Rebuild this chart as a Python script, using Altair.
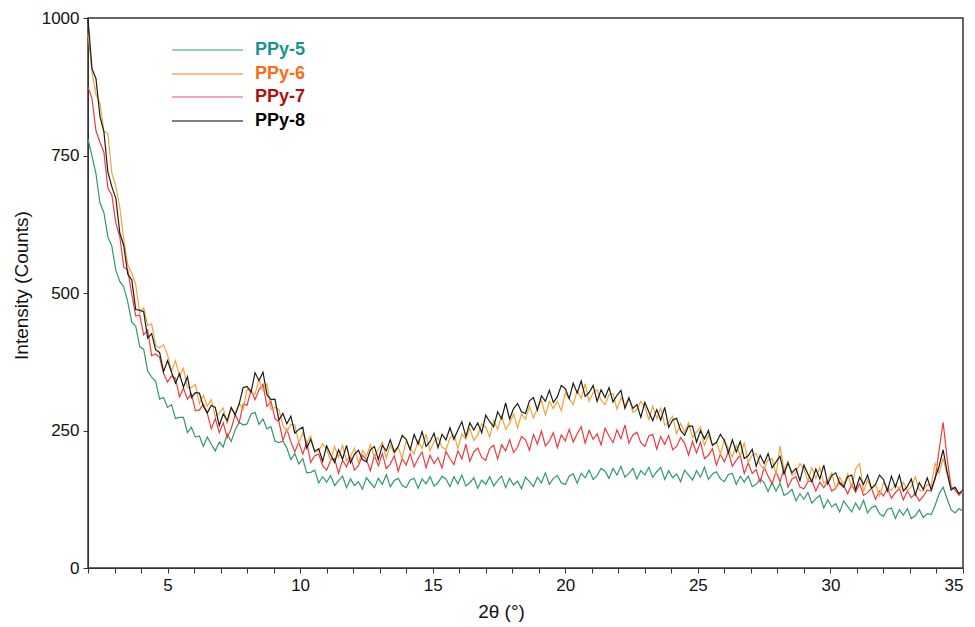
import altair as alt
import pandas as pd

x_start = 2.0
x_step = 0.15

ppy5 = [
    780, 749, 717, 664, 646, 602, 585, 541, 521, 511,
    484, 447, 440, 402, 398, 358, 347, 340, 307, 310,
    292, 297, 272, 274, 274, 246, 256, 238, 240, 221,
    238, 225, 213, 229, 220, 244, 230, 251, 265, 260,
    262, 280, 283, 261, 271, 253, 257, 231, 228, 231,
    218, 197, 208, 189, 199, 173, 174, 178, 155, 166,
    156, 168, 150, 159, 167, 146, 162, 150, 157, 143,
    164, 155, 146, 163, 152, 170, 148, 159, 163, 150,
    146, 160, 163, 145, 162, 153, 166, 149, 155, 167,
    162, 148, 166, 153, 169, 149, 155, 164, 145, 160,
    152, 166, 149, 159, 167, 146, 163, 151, 158, 144,
    165, 157, 148, 165, 155, 173, 152, 163, 168, 155,
    152, 167, 171, 154, 172, 164, 178, 161, 168, 181,
    176, 163, 181, 169, 185, 165, 172, 181, 162, 177,
    169, 183, 165, 175, 183, 161, 177, 164, 171, 157,
    178, 169, 160, 177, 165, 183, 161, 171, 175, 162,
    157, 170, 172, 152, 167, 156, 167, 148, 152, 162,
    155, 139, 155, 140, 154, 132, 136, 143, 122, 135,
    125, 137, 118, 126, 132, 109, 124, 111, 117, 102,
    122, 112, 102, 118, 106, 123, 100, 110, 113, 99,
    94, 107, 109, 90, 106, 96, 108, 90, 95, 106,
    92, 99, 97, 114, 135, 147, 126, 106, 100, 108, 103,
]

ppy6 = [
    972, 903, 861, 845, 794, 790, 718, 694, 655, 597,
    551, 536, 515, 464, 473, 441, 444, 405, 400, 406,
    388, 358, 377, 349, 363, 328, 328, 334, 299, 314,
    294, 306, 275, 282, 291, 262, 290, 282, 300, 288,
    326, 320, 316, 342, 322, 335, 288, 292, 288, 260,
    248, 261, 260, 227, 246, 228, 240, 210, 213, 226,
    216, 195, 221, 201, 223, 195, 203, 218, 191, 214,
    203, 224, 201, 216, 229, 200, 223, 208, 219, 200,
    231, 218, 207, 232, 217, 244, 213, 230, 237, 220,
    215, 236, 242, 218, 244, 234, 254, 232, 242, 262,
    256, 238, 268, 252, 277, 252, 263, 280, 255, 280,
    271, 294, 273, 290, 305, 278, 303, 290, 303, 286,
    318, 307, 297, 323, 308, 335, 303, 319, 324, 305,
    297, 315, 317, 289, 310, 295, 310, 283, 288, 303,
    293, 270, 294, 272, 291, 260, 265, 276, 244, 263,
    247, 264, 237, 247, 256, 223, 242, 223, 230, 207,
    234, 217, 202, 223, 204, 227, 192, 205, 208, 188,
    179, 197, 199, 170, 222, 178, 194, 168, 174, 190,
    180, 158, 183, 163, 183, 154, 160, 173, 144, 165,
    152, 171, 146, 180, 190, 139, 160, 143, 152, 131,
    155, 146, 141, 152, 144, 156, 140, 148, 166, 142,
    140, 152, 150, 190, 172, 200, 170, 144, 146, 134, 140,
]

ppy7 = [
    874, 854, 795, 774, 756, 691, 678, 627, 602, 547,
    542, 498, 458, 460, 424, 433, 386, 389, 383, 354,
    338, 349, 345, 311, 327, 307, 317, 286, 287, 298,
    281, 253, 272, 246, 264, 237, 253, 279, 264, 298,
    296, 324, 306, 324, 334, 294, 303, 272, 266, 232,
    252, 230, 211, 229, 207, 228, 192, 204, 207, 186,
    178, 196, 199, 172, 196, 184, 202, 178, 186, 205,
    197, 177, 205, 186, 208, 181, 189, 204, 176, 199,
    187, 208, 184, 199, 211, 182, 205, 190, 201, 182,
    212, 199, 188, 213, 198, 225, 194, 211, 218, 201,
    196, 217, 223, 198, 224, 213, 233, 210, 220, 239,
    233, 214, 243, 225, 249, 222, 231, 246, 219, 242,
    231, 252, 229, 244, 257, 227, 250, 234, 244, 224,
    254, 240, 228, 251, 235, 260, 227, 242, 247, 228,
    221, 240, 243, 216, 239, 225, 241, 215, 221, 237,
    227, 205, 230, 209, 229, 199, 205, 217, 187, 207,
    193, 211, 185, 196, 205, 172, 191, 172, 179, 156,
    183, 167, 153, 175, 157, 181, 147, 162, 166, 147,
    144, 157, 159, 140, 156, 146, 158, 140, 145, 156,
    150, 135, 152, 138, 153, 132, 137, 145, 125, 140,
    131, 145, 127, 137, 145, 124, 140, 128, 135, 122,
    130, 142, 140, 162, 215, 265, 200, 148, 142, 132, 140,
]

ppy8 = [
    998, 908, 890, 821, 793, 720, 693, 672, 609, 586,
    534, 524, 470, 469, 466, 418, 426, 397, 392, 357,
    377, 356, 336, 353, 329, 348, 310, 319, 318, 294,
    282, 296, 292, 259, 280, 268, 292, 278, 298, 328,
    330, 320, 355, 341, 356, 315, 306, 307, 269, 281,
    262, 276, 245, 252, 256, 218, 234, 212, 217, 194,
    222, 206, 192, 215, 198, 223, 191, 207, 214, 197,
    193, 215, 221, 197, 223, 213, 233, 211, 221, 241,
    234, 215, 243, 225, 248, 221, 230, 245, 219, 243,
    233, 255, 234, 251, 266, 239, 264, 251, 264, 246,
    278, 266, 257, 284, 271, 300, 271, 290, 299, 284,
    281, 304, 310, 287, 313, 303, 323, 301, 311, 332,
    326, 308, 336, 318, 340, 312, 319, 332, 303, 324,
    310, 328, 302, 314, 323, 290, 309, 290, 297, 274,
    301, 284, 268, 288, 269, 292, 256, 269, 272, 250,
    241, 258, 258, 229, 250, 235, 250, 223, 228, 243,
    232, 209, 233, 211, 230, 199, 204, 216, 185, 205,
    190, 208, 182, 193, 203, 171, 191, 173, 181, 159,
    187, 171, 157, 180, 162, 187, 153, 168, 173, 154,
    147, 166, 169, 142, 165, 152, 169, 145, 152, 169,
    161, 140, 167, 147, 169, 140, 148, 162, 133, 155,
    143, 164, 142, 164, 185, 215, 175, 142, 147, 135, 142,
]

series_names = ["PPy-5", "PPy-6", "PPy-7", "PPy-8"]
series_values = [ppy5, ppy6, ppy7, ppy8]
line_colors = ["#2f9a6c", "#f2a43a", "#ec3b3f", "#1c1c1c"]
legend_line_colors = ["#74bfae", "#f5aa60", "#ea8aa0", "#555555"]
legend_text_colors = ["#17968f", "#ff6a14", "#b30e0e", "#000000"]

y_ticks = [0, 250, 500, 750, 1000]
x_ticks = list(range(2, 36))

FONT = "Liberation Sans"

rows = []
for name, vals in zip(series_names, series_values):
    for i, v in enumerate(vals):
        rows.append({"series": name, "two_theta": round(x_start + x_step * i, 2), "intensity": v})
df = pd.DataFrame(rows)

x_enc = alt.X(
    "two_theta:Q",
    scale=alt.Scale(domain=[2, 35], nice=False, zero=False),
    axis=alt.Axis(
        values=x_ticks,
        labelExpr="datum.value % 5 == 0 ? datum.label : ''",
        title="2θ (°)",
        grid=False,
        tickSize=5,
        labelFontSize=17,
        titleFontSize=19,
        labelFont=FONT,
        titleFont=FONT,
        titleFontWeight="normal",
        labelColor="#111",
        titleColor="#111",
        domainColor="#333",
        tickColor="#333",
        labelPadding=4,
        titlePadding=9,
        titleX=413,
    ),
)
y_enc = alt.Y(
    "intensity:Q",
    scale=alt.Scale(domain=[0, 1000], nice=False, clamp=True),
    axis=alt.Axis(
        values=y_ticks,
        format="d",
        title="Intensity (Counts)",
        grid=False,
        tickSize=5,
        labelFontSize=17,
        titleFontSize=19,
        labelFont=FONT,
        titleFont=FONT,
        titleFontWeight="normal",
        labelColor="#111",
        titleColor="#111",
        domainColor="#333",
        tickColor="#333",
        labelPadding=4,
        titlePadding=10,
        titleY=267,
    ),
)

draw_order = ["PPy-5", "PPy-7", "PPy-6", "PPy-8"]
layers = []
for name in draw_order:
    idx = series_names.index(name)
    layers.append(
        alt.Chart(df[df["series"] == name])
        .mark_line(strokeWidth=1.2, color=line_colors[idx])
        .encode(x=x_enc, y=y_enc)
    )

# manual legend (top-left inside the plot)
legend_df = pd.DataFrame({
    "label": series_names,
    "ly": [32, 56, 79, 103],
    "lcolor": legend_line_colors,
    "tcolor": legend_text_colors,
})
legend_lines = alt.Chart(legend_df).mark_rule(strokeWidth=1.5).encode(
    x=alt.value(84), x2=alt.value(155),
    y=alt.Y("ly:Q", scale=None, axis=None),
    color=alt.Color("lcolor:N", scale=None, legend=None),
)
legend_text = alt.Chart(legend_df).mark_text(
    align="left", baseline="middle", fontSize=18, fontWeight="bold", font=FONT
).encode(
    x=alt.value(167),
    y=alt.Y("ly:Q", scale=None, axis=None),
    text="label:N",
    color=alt.Color("tcolor:N", scale=None, legend=None),
)

chart = alt.layer(*layers, legend_lines, legend_text).resolve_scale(
    x="shared", y="shared"
).properties(
    width=875,
    height=550,
    padding={"left": 88, "top": 18, "right": 12, "bottom": 59},
    autosize=alt.AutoSizeParams(type="none"),
    background="white",
).configure_view(
    stroke="#333", strokeWidth=1.5
)

chart.save("out.html", embed_options={"renderer": "svg", "actions": False})
